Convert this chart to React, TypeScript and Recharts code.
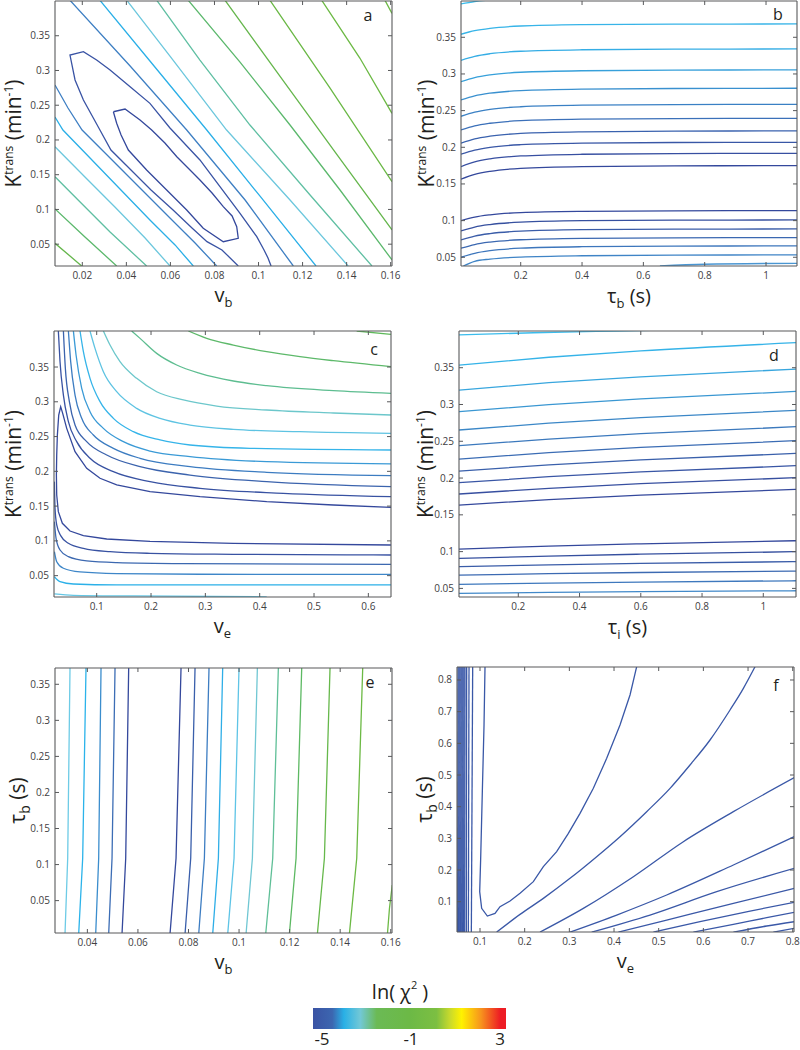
import React from 'react'
import { ComposedChart, Line, XAxis, YAxis } from 'recharts'

const W = 800
const H = 1050
const FONT = "'Open Sans', 'Noto Sans', sans-serif"
const FRAME = '#58595b'
const INK = '#231f20'

// ---------- tick values ----------
const kTicks = [0.05, 0.1, 0.15, 0.2, 0.25, 0.3, 0.35]
const vbTicks = [0.02, 0.04, 0.06, 0.08, 0.1, 0.12, 0.14, 0.16]
const tauTicks = [0.2, 0.4, 0.6, 0.8, 1]
const veTicks = [0.1, 0.2, 0.3, 0.4, 0.5, 0.6]
const vbTicksE = [0.04, 0.06, 0.08, 0.1, 0.12, 0.14, 0.16]
const veTicksF = [0.1, 0.2, 0.3, 0.4, 0.5, 0.6, 0.7, 0.8]
const tauTicksF = [0.1, 0.2, 0.3, 0.4, 0.5, 0.6, 0.7, 0.8]

// ---------- panel a: Ktrans vs vb ----------
const aLines: number[][][] = [
  [[0.0341, 0.2406], [0.0394, 0.2445], [0.0462, 0.2287], [0.0515, 0.2143], [0.0575, 0.1956], [0.0629, 0.1759], [0.068, 0.1596], [0.0734, 0.1424], [0.0789, 0.1237], [0.084, 0.104], [0.088, 0.0906], [0.0901, 0.0752], [0.0908, 0.0585], [0.084, 0.0536], [0.0749, 0.0729], [0.0674, 0.0992], [0.0583, 0.128], [0.0492, 0.1568], [0.0409, 0.1855], [0.0376, 0.2071], [0.0356, 0.224], [0.0341, 0.2406]],
  [[0.0908, 0.0186], [0.0834, 0.0417], [0.0766, 0.0536], [0.0698, 0.0733], [0.0612, 0.0992], [0.0512, 0.128], [0.0421, 0.1568], [0.033, 0.1855], [0.028, 0.2143], [0.025, 0.2316], [0.0205, 0.2575], [0.0167, 0.2863], [0.0144, 0.3222], [0.0205, 0.327], [0.0265, 0.315], [0.0326, 0.3006], [0.0417, 0.2766], [0.0507, 0.2527], [0.0598, 0.2172], [0.0734, 0.1712], [0.0825, 0.1327], [0.0916, 0.0945], [0.0992, 0.0608], [0.1025, 0.0417], [0.1043, 0.0301], [0.1057, 0.0186]],
  [[0.0076, 0.2791], [0.0135, 0.246], [0.0199, 0.2143], [0.0326, 0.174], [0.0462, 0.1309], [0.0598, 0.0877], [0.0712, 0.0517], [0.081, 0.0186]],
  [[0.0144, 0.401], [0.0417, 0.3064], [0.0674, 0.2143], [0.0939, 0.1136], [0.1158, 0.0186]],
  [[0.0076, 0.233], [0.0112, 0.2143], [0.0235, 0.174], [0.0371, 0.1294], [0.0507, 0.0848], [0.0621, 0.0489], [0.0704, 0.0186]],
  [[0.028, 0.401], [0.0507, 0.3136], [0.0765, 0.2143], [0.1006, 0.1194], [0.1261, 0.0186]],
  [[0.0076, 0.1903], [0.0212, 0.1467], [0.0348, 0.1035], [0.0485, 0.0589], [0.0598, 0.0186]],
  [[0.0402, 0.401], [0.0598, 0.3208], [0.0855, 0.2143], [0.1143, 0.1136], [0.1407, 0.0186]],
  [[0.0076, 0.1471], [0.019, 0.1107], [0.0326, 0.0676], [0.0492, 0.0186]],
  [[0.0538, 0.401], [0.0734, 0.315], [0.0961, 0.2215], [0.1234, 0.1208], [0.1515, 0.0186]],
  [[0.0076, 0.1007], [0.0212, 0.0604], [0.0356, 0.0186]],
  [[0.0681, 0.401], [0.0916, 0.3121], [0.1143, 0.2215], [0.137, 0.128], [0.1606, 0.0273]],
  [[0.0076, 0.0513], [0.0144, 0.033], [0.0197, 0.0186]],
  [[0.0848, 0.401], [0.1097, 0.292], [0.1347, 0.1827], [0.1606, 0.0705]],
  [[0.1052, 0.401], [0.1324, 0.2749], [0.1606, 0.1399]],
  [[0.1287, 0.401], [0.146, 0.3179], [0.1606, 0.2383]],
  [[0.1574, 0.401], [0.1606, 0.3822]],
]
const aColors = ['#34489c', '#3953a4', '#3e7fc3', '#3e7fc3', '#2aafe7', '#2aafe7', '#6cc7dd', '#6cc7dd', '#5fbfa2', '#5fbfa2', '#5bb86c', '#5bb86c', '#65b64c', '#65b64c', '#6ab845', '#6cb944', '#6cb944']

// ---------- panel b: Ktrans vs tau_b ----------
const bX = [0.0053, 0.05, 0.1, 0.2, 0.4, 0.7, 1.101]
const bLevels = [
  [0.3541, 0.359, 0.3623, 0.3654, 0.3672, 0.3679, 0.3682],
  [0.3186, 0.324, 0.3276, 0.331, 0.333, 0.3338, 0.3341],
  [0.2895, 0.2951, 0.2988, 0.3023, 0.3044, 0.3052, 0.3055],
  [0.2645, 0.2701, 0.2738, 0.2773, 0.2794, 0.2802, 0.2805],
  [0.2423, 0.248, 0.2518, 0.2553, 0.2575, 0.2583, 0.2586],
  [0.2236, 0.2292, 0.2328, 0.2363, 0.2384, 0.2392, 0.2395],
  [0.2055, 0.2114, 0.2152, 0.2189, 0.2211, 0.222, 0.2223],
  [0.1905, 0.1962, 0.2, 0.2035, 0.2057, 0.2065, 0.2068],
  [0.1736, 0.18, 0.1842, 0.1882, 0.1905, 0.1914, 0.1918],
  [0.1564, 0.1629, 0.1672, 0.1713, 0.1737, 0.1746, 0.175],
  [0.1, 0.1048, 0.1079, 0.1109, 0.1126, 0.1133, 0.1136],
  [0.0859, 0.0912, 0.0946, 0.0979, 0.0999, 0.1006, 0.1009],
  [0.0736, 0.0789, 0.0823, 0.0856, 0.0876, 0.0883, 0.0886],
  [0.0623, 0.0674, 0.0707, 0.0739, 0.0758, 0.0765, 0.0768],
  [0.05, 0.0554, 0.059, 0.0624, 0.0644, 0.0652, 0.0655],
]
const bTop = [[0.0053, 0.3955], [0.05, 0.3988], [0.1, 0.4009], [0.2, 0.4035]]
const bLow = [[0.013, 0.0381], [0.05, 0.0445], [0.1, 0.0475], [0.2, 0.0503], [0.4, 0.0521], [0.7, 0.0529], [1.101, 0.0532]]
const bCorner = [[0.654, 0.0381], [0.8, 0.0405], [1.101, 0.0418]]
const bColors = ['#3bbcec', '#37b4e8', '#35ade5', '#37a0da', '#3990cf', '#3a80c4', '#3b70b9', '#3a62ae', '#3957a6', '#374fa1', '#34489c', '#34489c', '#36509f', '#3a5ca8', '#3b68b1', '#3d76bc', '#3f84c6', '#4a96d2']

// ---------- panel c: Ktrans vs ve ----------
const cLines: number[][][] = [
  [[0.5785, 0.4018], [0.6417, 0.397]],
  [[0.2687, 0.4018], [0.3025, 0.3912], [0.3515, 0.3816], [0.4129, 0.372], [0.4742, 0.3649], [0.5356, 0.3591], [0.6417, 0.3505]],
  [[0.1644, 0.4018], [0.1798, 0.3912], [0.2104, 0.3696], [0.2472, 0.3529], [0.2902, 0.3409], [0.3515, 0.3299], [0.4129, 0.3232], [0.5356, 0.316], [0.6417, 0.3121]],
  [[0.1123, 0.4018], [0.1245, 0.3816], [0.1429, 0.3577], [0.1736, 0.3337], [0.2104, 0.3145], [0.2595, 0.3026], [0.3209, 0.2939], [0.4129, 0.2882], [0.5356, 0.2839], [0.6417, 0.281]],
  [[0.0877, 0.4018], [0.0969, 0.3768], [0.1123, 0.3433], [0.1368, 0.3145], [0.1736, 0.2906], [0.2166, 0.2762], [0.2718, 0.2666], [0.3515, 0.2604], [0.4742, 0.257], [0.6417, 0.2546]],
  [[0.0693, 0.4018], [0.0755, 0.372], [0.0877, 0.3337], [0.1061, 0.3002], [0.1307, 0.2762], [0.1675, 0.257], [0.2166, 0.2451], [0.2718, 0.2379], [0.3822, 0.2331], [0.6417, 0.2307]],
  [[0.0571, 0.4018], [0.062, 0.3673], [0.0724, 0.3193], [0.0877, 0.2858], [0.1123, 0.2618], [0.1491, 0.2427], [0.1982, 0.2292], [0.2718, 0.2211], [0.4129, 0.2139], [0.6417, 0.2106]],
  [[0.0479, 0.4018], [0.0521, 0.3577], [0.0601, 0.3097], [0.0724, 0.2762], [0.0939, 0.2522], [0.1307, 0.2331], [0.1798, 0.2187], [0.2718, 0.2067], [0.4129, 0.1986], [0.6417, 0.1938]],
  [[0.0387, 0.4018], [0.0423, 0.3481], [0.0497, 0.3002], [0.0601, 0.2666], [0.0816, 0.2427], [0.1184, 0.2235], [0.1798, 0.2067], [0.2718, 0.1947], [0.4129, 0.1852], [0.6417, 0.178]],
  [[0.0294, 0.4018], [0.0325, 0.3577], [0.0387, 0.3097], [0.0479, 0.2714], [0.0632, 0.2427], [0.0877, 0.2187], [0.1307, 0.1995], [0.1982, 0.1852], [0.2902, 0.1756], [0.4436, 0.1684], [0.6417, 0.1636]],
  [[0.6417, 0.1483], [0.5356, 0.1516], [0.4129, 0.1564], [0.2902, 0.1636], [0.1982, 0.1708], [0.1368, 0.1804], [0.1061, 0.19], [0.0816, 0.2043], [0.0601, 0.2283], [0.0448, 0.2618], [0.0374, 0.2834], [0.0337, 0.293], [0.0301, 0.281], [0.0276, 0.2522], [0.0264, 0.2235], [0.0258, 0.1947], [0.0264, 0.166], [0.0294, 0.142], [0.0368, 0.1253], [0.0509, 0.1142], [0.0755, 0.1075], [0.1184, 0.1027], [0.1982, 0.0994], [0.3515, 0.0965], [0.6417, 0.0941]],
  [[0.0221, 0.1852], [0.0233, 0.1468], [0.0264, 0.1229], [0.0337, 0.1075], [0.0479, 0.0965], [0.0755, 0.0893], [0.1245, 0.0845], [0.1982, 0.0821], [0.3515, 0.0807], [0.6417, 0.0797]],
  [[0.0221, 0.1277], [0.0252, 0.1037], [0.0325, 0.0869], [0.0479, 0.0773], [0.0816, 0.0711], [0.1368, 0.0687], [0.2595, 0.0673], [0.6417, 0.0663]],
  [[0.0221, 0.0845], [0.0264, 0.0701], [0.0387, 0.0606], [0.0693, 0.0553], [0.1368, 0.0529], [0.2902, 0.052], [0.6417, 0.0519]],
  [[0.0221, 0.0486], [0.0325, 0.0414], [0.0571, 0.038], [0.1368, 0.0367], [0.3515, 0.0366], [0.6417, 0.0366]],
  [[0.0221, 0.0237], [0.0571, 0.0217], [0.1675, 0.0208], [0.4129, 0.0196]],
]
const cColors = ['#5fb95b', '#5db96a', '#5dbd90', '#6cc7cb', '#5ec3e2', '#35b4e9', '#3a9ad6', '#3c7cc1', '#3b63ad', '#3852a2', '#34489c', '#3852a2', '#3c68b0', '#3e86c8', '#2bb0e8', '#64c6e4']
const cCurves = cLines.map((_, i) => (i === 10 ? 'linear' : 'monotone'))

// ---------- panel d: Ktrans vs tau_i ----------
const dX = [0.0064, 0.3, 0.6, 1.1068]
const dLevels = [
  [0.3536, 0.3642, 0.3728, 0.384],
  [0.3196, 0.3296, 0.3376, 0.3482],
  [0.2902, 0.2999, 0.3076, 0.3178],
  [0.2653, 0.2746, 0.2821, 0.292],
  [0.244, 0.253, 0.2603, 0.2698],
  [0.2258, 0.2346, 0.2416, 0.2508],
  [0.2095, 0.2179, 0.2246, 0.2335],
  [0.1937, 0.2018, 0.2083, 0.2168],
  [0.1783, 0.1861, 0.1923, 0.2005],
  [0.1633, 0.1708, 0.1767, 0.1846],
  [0.1035, 0.1075, 0.1106, 0.1148],
  [0.0908, 0.094, 0.0965, 0.0999],
  [0.0796, 0.082, 0.0839, 0.0864],
  [0.0681, 0.07, 0.0716, 0.0736],
  [0.0555, 0.0572, 0.0586, 0.0604],
  [0.0432, 0.0445, 0.0455, 0.0468],
]
const dTop = [[0.0064, 0.3945], [0.25, 0.3975], [0.52, 0.3999], [0.8, 0.402]]
const dColors = ['#3bbcec', '#35b3e8', '#38a6de', '#3a97d2', '#3b87c7', '#3c79bd', '#3b6cb4', '#3a60ab', '#3956a5', '#374fa0', '#34489c', '#34489c', '#36509f', '#3a5ca8', '#3c6ab2', '#3e78bd', '#4289c9']

// ---------- panel e: tau_b vs vb ----------
const eY = [0.374, 0.1087, 0.004]
const eLevels = [
  [0.03314, 0.03222, 0.03116],
  [0.03947, 0.03815, 0.03657],
  [0.04541, 0.04448, 0.0433],
  [0.05095, 0.04976, 0.04844],
  [0.05635, 0.05517, 0.05371],
  [0.07706, 0.07508, 0.0727],
  [0.0826, 0.08088, 0.07864],
  [0.08813, 0.08629, 0.08405],
  [0.09354, 0.09183, 0.08958],
  [0.1, 0.09802, 0.09552],
  [0.10726, 0.10528, 0.10277],
  [0.11556, 0.11332, 0.11055],
  [0.1248, 0.12255, 0.11992],
  [0.136, 0.13376, 0.13099],
  [0.14893, 0.14655, 0.14365],
]
const eEdge = [[0.1606, 0.0717], [0.1595, 0.0394], [0.1587, 0.004]]
const eColors = ['#6dcbe6', '#2bb3ea', '#3b8dcd', '#3c6db5', '#34489c', '#34489c', '#3a5fab', '#3d7dc2', '#2eaee7', '#5ec4e6', '#70c7d3', '#5fbf97', '#5db963', '#66b84b', '#6cb944', '#6cb944']

// ---------- panel f: tau_b vs ve ----------
const fVertical = [
  [0.0508, 0.05], [0.053, 0.0522], [0.0552, 0.0545], [0.0575, 0.0567], [0.0597, 0.059],
  [0.0619, 0.0612], [0.0642, 0.0634], [0.0664, 0.0657], [0.0701, 0.0694], [0.0754, 0.0739], [0.0836, 0.0806],
]
const fVerticalY = [0.842, 0.004]
const fBowl = [[0.1112, 0.842], [0.109, 0.6579], [0.1052, 0.4474], [0.1015, 0.2368], [0.0993, 0.1316], [0.1037, 0.0789], [0.1164, 0.0547], [0.1336, 0.0632], [0.1448, 0.0842], [0.1672, 0.1021], [0.1896, 0.1263], [0.2194, 0.1632], [0.2418, 0.2105], [0.2716, 0.2579], [0.2978, 0.3158], [0.3239, 0.3789], [0.3537, 0.4579], [0.3836, 0.5526], [0.4134, 0.6579], [0.4358, 0.7526], [0.4507, 0.842]]
const fFan: number[][][] = [
  [[0.1373, 0.004], [0.1896, 0.06], [0.2418, 0.1105], [0.3015, 0.1737], [0.3612, 0.2421], [0.4134, 0.3053], [0.4731, 0.3842], [0.5254, 0.4579], [0.5701, 0.5316], [0.6149, 0.6105], [0.6597, 0.7053], [0.6896, 0.7737], [0.7157, 0.842]],
  [[0.2343, 0.004], [0.3313, 0.0789], [0.4433, 0.1789], [0.5552, 0.2895], [0.6672, 0.3842], [0.8037, 0.4916]],
  [[0.3015, 0.004], [0.406, 0.0579], [0.5179, 0.1211], [0.6672, 0.2158], [0.8037, 0.3053]],
  [[0.35, 0.004], [0.4806, 0.0579], [0.6299, 0.1316], [0.8037, 0.2053]],
  [[0.4097, 0.004], [0.5179, 0.0421], [0.6672, 0.0947], [0.8037, 0.1421]],
  [[0.4881, 0.004], [0.5925, 0.0368], [0.7045, 0.0705], [0.8037, 0.0979]],
  [[0.5776, 0.004], [0.6672, 0.0284], [0.7418, 0.0495], [0.8037, 0.0663]],
  [[0.6672, 0.004], [0.7418, 0.0232], [0.8037, 0.0368]],
  [[0.7567, 0.004], [0.8037, 0.0158]],
]
const F_BLUE = '#3a58a7'

// ---------- colour bar ----------
const barTicks = [-5, -1, 3]
const barStops: [number, string][] = [
  [0, '#3a53a4'], [0.1, '#3c66b0'], [0.16, '#29b0e6'], [0.245, '#72c8d6'], [0.33, '#6bba55'],
  [0.5, '#6cb946'], [0.64, '#7cbf42'], [0.71, '#c9da2c'], [0.77, '#fff200'], [0.87, '#f7941d'], [0.97, '#ed1c24'], [1, '#ed1c24'],
]

// ---------- building the series ----------
const gridLines = (xs: number[], rows: number[][]) => rows.map((ys) => ys.map((y, i) => [xs[i], y]))
const colLines = (ys: number[], rows: number[][]) => rows.map((xs) => xs.map((x, i) => [x, ys[i]]))

const bLines = [bTop, ...gridLines(bX, bLevels), bLow, bCorner]
const dLines = [dTop, ...gridLines(dX, dLevels)]
const eLines = [...colLines(eY, eLevels), eEdge]
const fLines = [...colLines(fVerticalY, fVertical), fBowl, ...fFan]
const fColors = fLines.map(() => F_BLUE)
const fCurves = fLines.map((_, i) => (i > fVertical.length ? 'monotone' : 'linear'))

// ---------- ticks (drawn inward, MATLAB box style) ----------
const tickText = { fontSize: 10, fill: '#414042', fontFamily: FONT }
const bottomTick = (p: any) => (
  <g>
    <line x1={p.x} x2={p.x} y1={p.y} y2={p.y - 4} stroke={FRAME} />
    <text x={p.x} y={p.y + 13} textAnchor="middle" {...tickText}>{String(p.payload.value)}</text>
  </g>
)
const topTick = (p: any) => <line x1={p.x} x2={p.x} y1={p.y} y2={p.y + 4} stroke={FRAME} />
const leftTick = (p: any) => (
  <g>
    <line x1={p.x} x2={p.x + 4} y1={p.y} y2={p.y} stroke={FRAME} />
    <text x={p.x - 5} y={p.y} dy="0.35em" textAnchor="end" {...tickText}>{String(p.payload.value)}</text>
  </g>
)
const rightTick = (p: any) => <line x1={p.x} x2={p.x - 4} y1={p.y} y2={p.y} stroke={FRAME} />

interface PanelProps {
  box: [number, number, number, number]
  xDomain: [number, number]
  yDomain: [number, number]
  xTicks: number[]
  yTicks: number[]
  lines: number[][][]
  colors: string[]
  curves?: string[]
  curve?: string
}

// axes get a 1px band so recharts still draws them
const AX = 1

function Panel({ box, xDomain, yDomain, xTicks, yTicks, lines, colors, curves, curve = 'linear' }: PanelProps) {
  const [left, top, right, bottom] = box
  const frame = { stroke: FRAME, strokeWidth: 1.1 }
  const common = { type: 'number' as const, interval: 0 as const, allowDataOverflow: true, tickLine: false, tickSize: 0, tickMargin: 0, axisLine: frame }
  return (
    <div style={{ position: 'absolute', left: 0, top: 0 }}>
      <ComposedChart width={W} height={H} margin={{ left: left - AX, top: top - AX, right: W - right - AX, bottom: H - bottom - AX }}>
        <XAxis xAxisId="x" dataKey="x" domain={xDomain} ticks={xTicks} height={AX} tick={bottomTick} {...common} />
        <XAxis xAxisId="top" orientation="top" dataKey="x" domain={xDomain} ticks={xTicks} height={AX} tick={topTick} {...common} />
        <YAxis yAxisId="y" domain={yDomain} ticks={yTicks} width={AX} tick={leftTick} {...common} />
        <YAxis yAxisId="right" orientation="right" domain={yDomain} ticks={yTicks} width={AX} tick={rightTick} {...common} />
        {lines.map((pts, i) => (
          <Line
            key={i}
            xAxisId="x"
            yAxisId="y"
            data={pts.map(([x, y]) => ({ x, y }))}
            dataKey="y"
            type={(curves ? curves[i] : curve) as any}
            stroke={colors[i]}
            strokeWidth={1.3}
            dot={false}
            activeDot={false}
            isAnimationActive={false}
          />
        ))}
      </ComposedChart>
    </div>
  )
}

// ---------- text ----------
const NB = '\u00a0'
const Kt = ({ x, cy }: { x: number; cy: number }) => (
  <text transform={`translate(${x},${cy}) rotate(-90)`} textAnchor="middle" fontSize={21} fontFamily={FONT} fill={INK}>
    K<tspan fontSize={12} dy={-8}>trans</tspan>
    <tspan dy={8}>{NB}(min</tspan>
    <tspan fontSize={12} dy={-8}>-1</tspan>
    <tspan dy={8}>)</tspan>
  </text>
)
const TauB = ({ x, cy }: { x: number; cy: number }) => (
  <text transform={`translate(${x},${cy}) rotate(-90)`} textAnchor="middle" fontSize={21} fontFamily={FONT} fill={INK}>
    τ<tspan fontSize={14} dy={5}>b</tspan>
    <tspan dy={-5}>{NB}(s)</tspan>
  </text>
)
const Sub = ({ x, y, main, sub, tail }: { x: number; y: number; main: string; sub: string; tail?: string }) => (
  <text x={x} y={y} textAnchor="middle" fontSize={20} fontFamily={FONT} fill={INK}>
    {main}
    <tspan fontSize={13} dy={5}>{sub}</tspan>
    {tail ? <tspan dy={-5}>{NB + tail}</tspan> : null}
  </text>
)
const Letter = ({ x, y, t }: { x: number; y: number; t: string }) => (
  <text x={x} y={y} textAnchor="middle" fontSize={16} fontFamily={FONT} fill={INK}>{t}</text>
)

export default function App() {
  const barX0 = 313
  const barW = 193
  return (
    <div style={{ position: 'absolute', left: 0, top: 0, width: W, height: H, background: '#fff' }}>
      <Panel box={[55, 1, 392, 266]} xDomain={[0.0076, 0.1606]} yDomain={[0.0186, 0.4]} xTicks={vbTicks} yTicks={kTicks} lines={aLines} colors={aColors} />
      <Panel box={[461, 1, 797, 266]} xDomain={[0.0053, 1.101]} yDomain={[0.0381, 0.3995]} xTicks={tauTicks} yTicks={kTicks} lines={bLines} colors={bColors} curve="monotone" />
      <Panel box={[54, 331, 391, 597]} xDomain={[0.0214, 0.6417]} yDomain={[0.0193, 0.4018]} xTicks={veTicks} yTicks={kTicks} lines={cLines} colors={cColors} curves={cCurves} />
      <Panel box={[459, 331, 796, 597]} xDomain={[0.0064, 1.1068]} yDomain={[0.0383, 0.3999]} xTicks={tauTicks} yTicks={kTicks} lines={dLines} colors={dColors} curve="monotone" />
      <Panel box={[55, 668, 392, 933]} xDomain={[0.0272, 0.1605]} yDomain={[0.0051, 0.3726]} xTicks={vbTicksE} yTicks={kTicks} lines={eLines} colors={eColors} />
      <Panel box={[457, 667, 794, 932]} xDomain={[0.0485, 0.8029]} yDomain={[0.0043, 0.841]} xTicks={veTicksF} yTicks={tauTicksF} lines={fLines} colors={fColors} curves={fCurves} />
      <svg width={W} height={H} style={{ position: 'absolute', left: 0, top: 0, pointerEvents: 'none' }}>
        <defs>
          <linearGradient id="jet" x1="0" y1="0" x2="1" y2="0">
            {barStops.map(([o, c]) => (
              <stop key={o} offset={o} stopColor={c} />
            ))}
          </linearGradient>
        </defs>
        <Kt x={21} cy={133.5} />
        <Kt x={434} cy={133.5} />
        <Kt x={21} cy={464} />
        <Kt x={433} cy={464} />
        <TauB x={25} cy={800.5} />
        <TauB x={432} cy={799.5} />
        <Sub x={223.5} y={302} main="v" sub="b" />
        <Sub x={629} y={303} main="τ" sub="b" tail="(s)" />
        <Sub x={222.5} y={633} main="v" sub="e" />
        <Sub x={627.5} y={634} main="τ" sub="i" tail="(s)" />
        <Sub x={223.5} y={969} main="v" sub="b" />
        <Sub x={625.5} y={968} main="v" sub="e" />
        <Letter x={368} y={21} t="a" />
        <Letter x={778} y={20} t="b" />
        <Letter x={374} y={355} t="c" />
        <Letter x={774} y={361} t="d" />
        <Letter x={370} y={688} t="e" />
        <Letter x={776} y={691} t="f" />
        <text x={400} y={999} textAnchor="middle" fontSize={20} fontFamily={FONT} fill={INK}>
          ln(<tspan dx={5}>χ</tspan>
          <tspan fontSize={11} dy={-10}>2</tspan>
          <tspan dy={10} dx={5}>)</tspan>
        </text>
        <rect x={barX0} y={1008} width={barW} height={21} fill="url(#jet)" />
        {barTicks.map((t) => (
          <text key={t} x={barX0 + 9 + ((t + 5) / 8) * (barW - 15)} y={1045} textAnchor="middle" fontSize={17} fontFamily={FONT} fill={INK}>
            {String(t)}
          </text>
        ))}
      </svg>
    </div>
  )
}
